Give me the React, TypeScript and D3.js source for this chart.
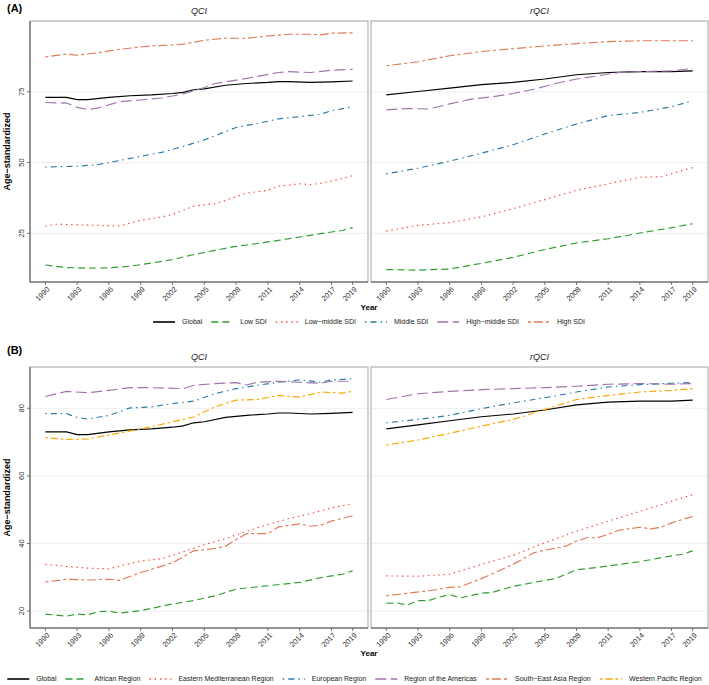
import React from "react";
import * as d3 from "d3";

type Pt = [number, number];

// ---------- Data ----------
const X_TICKS = [1990, 1993, 1996, 1999, 2002, 2005, 2008, 2011, 2014, 2017, 2019];
const Y_TICKS_A = [25, 50, 75];
const Y_TICKS_B = [20, 40, 60, 80];
const FACETS = ["QCI", "rQCI"];

const SDI_NAMES = ["Global", "Low SDI", "Low−middle SDI", "Middle SDI", "High−middle SDI", "High SDI"];
const REGION_NAMES = [
  "Global",
  "African Region",
  "Eastern Mediterranean Region",
  "European Region",
  "Region of the Americas",
  "South−East Asia Region",
  "Western Pacific Region",
];

// Panel A, QCI
const globalQCI: Pt[] = [[1990,73.0],[1992,73.0],[1993,72.2],[1994,72.2],[1996,73.0],[1998,73.6],[2000,73.9],[2002,74.4],[2003,74.8],[2004,75.7],[2005,76.0],[2007,77.3],[2009,77.9],[2011,78.3],[2012,78.6],[2013,78.6],[2015,78.3],[2017,78.5],[2019,78.8]];
const lowSdiQCI: Pt[] = [[1990,13.8],[1992,12.9],[1994,12.7],[1996,12.8],[1998,13.4],[2000,14.5],[2002,15.7],[2004,17.5],[2006,19.0],[2008,20.4],[2010,21.4],[2012,22.5],[2014,23.7],[2016,24.9],[2018,26.0],[2019,27.0]];
const lowMidSdiQCI: Pt[] = [[1990,27.5],[1991,28.2],[1993,28.0],[1995,27.8],[1997,27.6],[1998,28.6],[1999,29.6],[2001,30.8],[2002,31.7],[2003,33.1],[2004,34.6],[2006,35.5],[2007,36.6],[2008,38.0],[2009,39.2],[2011,40.2],[2012,41.6],[2014,42.5],[2015,42.2],[2016,42.7],[2018,44.3],[2019,45.4]];
const midSdiQCI: Pt[] = [[1990,48.4],[1993,48.7],[1995,49.3],[1997,50.7],[1999,52.2],[2001,53.6],[2003,55.7],[2005,58.0],[2007,60.9],[2008,62.4],[2010,63.8],[2012,65.4],[2014,66.2],[2016,67.1],[2017,68.3],[2019,69.7]];
const highMidSdiQCI: Pt[] = [[1990,71.2],[1992,71.0],[1993,69.5],[1994,68.7],[1995,69.3],[1997,71.5],[1999,72.1],[2001,72.8],[2003,74.2],[2005,76.5],[2006,77.9],[2008,79.1],[2010,80.4],[2012,81.8],[2013,82.1],[2015,81.8],[2017,82.6],[2019,82.9]];
const highSdiQCI: Pt[] = [[1990,87.3],[1992,88.3],[1993,87.9],[1995,88.8],[1997,90.0],[2000,91.2],[2002,91.5],[2003,91.8],[2005,93.2],[2007,93.9],[2009,93.9],[2011,94.7],[2013,95.3],[2015,95.3],[2016,95.1],[2017,95.7],[2019,95.8]];

// Panel A, rQCI
const globalRQCI: Pt[] = [[1990,73.9],[1993,75.1],[1996,76.3],[1999,77.5],[2002,78.3],[2005,79.5],[2008,81.0],[2011,81.8],[2014,82.1],[2017,82.1],[2019,82.4]];
const lowSdiRQCI: Pt[] = [[1990,12.2],[1993,12.0],[1996,12.4],[1999,14.4],[2002,16.5],[2005,19.3],[2008,21.6],[2011,23.1],[2014,25.1],[2017,27.0],[2019,28.4]];
const lowMidSdiRQCI: Pt[] = [[1990,25.8],[1993,27.8],[1996,28.8],[1999,30.8],[2002,33.7],[2005,36.9],[2008,40.2],[2011,42.5],[2014,44.8],[2016,45.0],[2019,48.2]];
const midSdiRQCI: Pt[] = [[1990,46.0],[1993,48.0],[1996,50.5],[1999,53.3],[2002,56.3],[2005,60.1],[2008,63.6],[2011,66.6],[2014,67.7],[2017,69.7],[2019,71.8]];
const highMidSdiRQCI: Pt[] = [[1990,68.6],[1992,69.1],[1994,68.9],[1996,70.7],[1998,72.4],[2000,73.2],[2002,74.4],[2004,75.9],[2006,77.9],[2008,79.5],[2010,80.6],[2012,81.8],[2014,82.1],[2017,82.4],[2019,83.2]];
const highSdiRQCI: Pt[] = [[1990,84.2],[1993,85.6],[1996,87.7],[1999,89.2],[2002,90.2],[2005,91.2],[2008,92.0],[2011,92.7],[2014,93.0],[2017,93.0],[2019,93.0]];

// Panel B, QCI
const africanQCI: Pt[] = [[1990,19.1],[1992,18.5],[1993,19.1],[1994,18.9],[1995,19.8],[1996,20.0],[1997,19.4],[1999,20.1],[2000,20.8],[2002,22.1],[2004,23.1],[2006,24.5],[2008,26.5],[2011,27.5],[2014,28.5],[2016,29.9],[2018,30.9],[2019,31.9]];
const emrQCI: Pt[] = [[1990,33.8],[1992,33.2],[1994,32.7],[1996,32.5],[1997,33.3],[1999,34.8],[2001,35.5],[2003,37.5],[2005,39.7],[2007,41.4],[2009,43.6],[2011,45.6],[2013,47.4],[2015,48.8],[2017,50.5],[2019,51.8]];
const eurQCI: Pt[] = [[1990,78.4],[1992,78.4],[1993,77.3],[1994,76.8],[1996,77.9],[1998,80.1],[2000,80.4],[2002,81.4],[2004,82.1],[2006,84.3],[2008,85.8],[2010,86.8],[2012,87.7],[2014,88.4],[2016,87.7],[2017,88.4],[2019,88.7]];
const amrQCI: Pt[] = [[1990,83.5],[1992,85.0],[1994,84.6],[1996,85.3],[1998,86.1],[2000,86.1],[2003,85.8],[2004,86.8],[2006,87.3],[2008,87.6],[2009,86.9],[2010,87.7],[2012,88.0],[2014,87.7],[2016,87.4],[2017,88.0],[2019,88.0]];
const searQCI: Pt[] = [[1990,28.6],[1992,29.4],[1994,29.2],[1996,29.4],[1997,29.1],[1999,31.4],[2001,33.3],[2002,34.3],[2004,37.8],[2006,38.5],[2007,39.2],[2008,41.2],[2009,42.9],[2011,42.9],[2012,44.9],[2014,45.8],[2015,45.1],[2016,45.4],[2017,46.6],[2019,48.2]];
const wprQCI: Pt[] = [[1990,71.3],[1992,70.8],[1994,70.9],[1996,72.1],[1998,73.3],[2000,74.5],[2002,76.0],[2004,77.4],[2006,80.4],[2008,82.4],[2010,82.6],[2012,83.8],[2014,83.3],[2016,84.8],[2018,84.5],[2019,85.0]];

// Panel B, rQCI
const africanRQCI: Pt[] = [[1990,22.3],[1991,22.4],[1992,21.8],[1993,23.1],[1994,23.1],[1995,24.1],[1996,24.9],[1997,23.9],[1998,24.6],[1999,25.3],[2000,25.5],[2002,27.3],[2004,28.5],[2006,29.6],[2008,32.2],[2010,32.9],[2012,33.8],[2014,34.6],[2016,35.8],[2018,36.8],[2019,37.8]];
const emrRQCI: Pt[] = [[1990,30.4],[1993,30.3],[1996,30.9],[1999,33.8],[2002,36.5],[2005,40.2],[2008,43.6],[2011,46.6],[2014,49.5],[2017,52.5],[2019,54.4]];
const eurRQCI: Pt[] = [[1990,75.7],[1993,76.7],[1996,77.9],[1999,79.9],[2002,81.6],[2005,83.1],[2008,84.8],[2011,86.3],[2014,87.0],[2017,87.4],[2019,87.6]];
const amrRQCI: Pt[] = [[1990,82.6],[1993,84.3],[1996,85.0],[1999,85.5],[2002,85.8],[2005,86.1],[2008,86.5],[2011,87.1],[2014,87.3],[2017,87.1],[2019,87.3]];
const searRQCI: Pt[] = [[1990,24.5],[1992,25.3],[1994,26.0],[1996,27.0],[1997,27.2],[1999,29.6],[2001,32.4],[2002,33.8],[2004,37.3],[2005,38.0],[2007,39.2],[2008,40.7],[2009,41.7],[2010,41.7],[2011,42.7],[2012,43.9],[2014,44.8],[2015,44.3],[2016,44.8],[2017,46.1],[2019,48.0]];
const wprRQCI: Pt[] = [[1990,69.1],[1993,70.6],[1996,72.6],[1999,74.7],[2002,76.7],[2005,79.6],[2008,82.6],[2011,83.8],[2014,84.8],[2017,85.3],[2019,85.8]];

// ---------- Styles ----------
const COLORS = ["#000000", "#2f9e2f", "#ff3b3b", "#2a7bab", "#9f74ab", "#e07a56", "#ffa500"];
const DASHES = ["", "7 4", "1.4 3.8", "1.5 4 6 4", "11 4.5", "3 3 9 3", "2.5 3 7 3"];

const FONT = "'Liberation Sans', Arial, Helvetica, sans-serif";
const W = 709;
const H = 685;
const COLS: [number, number][] = [[30, 368], [371, 708]];

function measure(text: string, size: number, weight = "normal"): number {
  if (typeof document === "undefined") return text.length * size * 0.5;
  const c = document.createElement("canvas");
  const ctx = c.getContext("2d");
  if (!ctx) return text.length * size * 0.5;
  ctx.font = `${weight} ${size}px ${FONT}`;
  return ctx.measureText(text).width;
}

function yDomain(groups: Pt[][][]): [number, number] {
  const vals = groups.flat(2).map((p) => p[1]);
  const lo = d3.min(vals) as number;
  const hi = d3.max(vals) as number;
  const pad = (hi - lo) * 0.05;
  return [lo - pad, hi + pad];
}

const xPad = (2019 - 1990) * 0.05;

function Panel({ x0, x1, top, bottom, series, yTicks, domain, facet, showY }: any) {
  const x = d3.scaleLinear().domain([1990 - xPad, 2019 + xPad]).range([x0, x1]);
  const y = d3.scaleLinear().domain(domain).range([bottom, top]);
  const line = d3.line<Pt>().x((d) => x(d[0])).y((d) => y(d[1]));
  return (
    <g>
      <text x={(x0 + x1) / 2} y={top - 7} textAnchor="middle" fontStyle="italic" fontSize={9} fill="#1a1a1a">
        {facet}
      </text>
      <rect x={x0} y={top} width={x1 - x0} height={bottom - top} fill="#ffffff" />
      {yTicks.map((t: number) => (
        <line key={t} x1={x0} x2={x1} y1={y(t)} y2={y(t)} stroke="#ebebeb" strokeWidth={0.8} />
      ))}
      {series.map((s: Pt[], i: number) => (
        <path
          key={i}
          d={line(s) || ""}
          fill="none"
          stroke={COLORS[i]}
          strokeWidth={1.15}
          strokeDasharray={DASHES[i] || undefined}
        />
      ))}
      <rect x={x0} y={top} width={x1 - x0} height={bottom - top} fill="none" stroke="#b3b3b3" strokeWidth={1.2} />
      {showY && <line x1={x0} x2={x0} y1={top} y2={bottom} stroke="#555" strokeWidth={1} />}
      <line x1={x0} x2={x1} y1={bottom} y2={bottom} stroke="#555" strokeWidth={1} />
      {showY &&
        yTicks.map((t: number) => (
          <g key={"yt" + t}>
            <line x1={x0 - 3} x2={x0} y1={y(t)} y2={y(t)} stroke="#555" strokeWidth={0.8} />
            <text
              transform={`translate(${x0 - 6},${y(t)}) rotate(-90)`}
              textAnchor="middle"
              fontSize={7.5}
              fill="#333"
            >
              {t}
            </text>
          </g>
        ))}
      {X_TICKS.map((t) => (
        <g key={"xt" + t}>
          <line x1={x(t)} x2={x(t)} y1={bottom} y2={bottom + 3} stroke="#555" strokeWidth={0.8} />
          <text
            transform={`translate(${x(t) + 1},${bottom + 4}) rotate(-45)`}
            textAnchor="end"
            dy="0.72em"
            fontSize={7.5}
            fill="#333"
          >
            {t}
          </text>
        </g>
      ))}
    </g>
  );
}

function Legend({ names, cy, cx }: { names: string[]; cy: number; cx: number }) {
  const keyW = 22;
  const gapKT = 7;
  const gapItem = 9;
  const fs = 7;
  const widths = names.map((n) => measure(n, fs));
  const total = d3.sum(widths) + names.length * (keyW + gapKT) + (names.length - 1) * gapItem;
  let cur = cx - total / 2;
  const items = names.map((n, i) => {
    const start = cur;
    cur += keyW + gapKT + widths[i] + gapItem;
    return { n, i, start };
  });
  return (
    <g>
      {items.map(({ n, i, start }) => (
        <g key={n}>
          <line
            x1={start}
            x2={start + keyW}
            y1={cy}
            y2={cy}
            stroke={COLORS[i]}
            strokeWidth={1.6}
            strokeDasharray={DASHES[i] || undefined}
          />
          <text x={start + keyW + gapKT} y={cy} dy="0.35em" fontSize={fs} fill="#1a1a1a">
            {n}
          </text>
        </g>
      ))}
    </g>
  );
}

export default function App() {
  const groupA = [
    [globalQCI, lowSdiQCI, lowMidSdiQCI, midSdiQCI, highMidSdiQCI, highSdiQCI],
    [globalRQCI, lowSdiRQCI, lowMidSdiRQCI, midSdiRQCI, highMidSdiRQCI, highSdiRQCI],
  ];
  const groupB = [
    [globalQCI, africanQCI, emrQCI, eurQCI, amrQCI, searQCI, wprQCI],
    [globalRQCI, africanRQCI, emrRQCI, eurRQCI, amrRQCI, searRQCI, wprRQCI],
  ];
  const domA = yDomain(groupA);
  const domB = yDomain(groupB);
  const rowA = { top: 21, bottom: 282 };
  const rowB = { top: 367, bottom: 628 };
  const plotCx = (COLS[0][0] + COLS[1][1]) / 2;

  return (
    <svg
      width={W}
      height={H}
      viewBox={`0 0 ${W} ${H}`}
      style={{ position: "absolute", left: 0, top: 0, background: "#fff" }}
      fontFamily={FONT}
    >
      <rect x={0} y={0} width={W} height={H} fill="#fff" />
      {/* Panel A */}
      <text x={7} y={12} fontSize={11} fontWeight="bold" fill="#000">(A)</text>
      {groupA.map((s, i) => (
        <Panel
          key={"a" + i}
          x0={COLS[i][0]}
          x1={COLS[i][1]}
          top={rowA.top}
          bottom={rowA.bottom}
          series={s}
          yTicks={Y_TICKS_A}
          domain={domA}
          facet={FACETS[i]}
          showY={i === 0}
        />
      ))}
      <text
        transform={`translate(10,${(rowA.top + rowA.bottom) / 2}) rotate(-90)`}
        textAnchor="middle"
        fontSize={9}
        fontWeight="bold"
        fill="#000"
      >
        Age−standardized
      </text>
      <text x={plotCx} y={310} textAnchor="middle" fontSize={8} fontWeight="bold" fill="#000">Year</text>
      <Legend names={SDI_NAMES} cy={322} cx={plotCx} />

      {/* Panel B */}
      <text x={7} y={354} fontSize={11} fontWeight="bold" fill="#000">(B)</text>
      {groupB.map((s, i) => (
        <Panel
          key={"b" + i}
          x0={COLS[i][0]}
          x1={COLS[i][1]}
          top={rowB.top}
          bottom={rowB.bottom}
          series={s}
          yTicks={Y_TICKS_B}
          domain={domB}
          facet={FACETS[i]}
          showY={i === 0}
        />
      ))}
      <text
        transform={`translate(10,${(rowB.top + rowB.bottom) / 2}) rotate(-90)`}
        textAnchor="middle"
        fontSize={9}
        fontWeight="bold"
        fill="#000"
      >
        Age−standardized
      </text>
      <text x={plotCx} y={656} textAnchor="middle" fontSize={8} fontWeight="bold" fill="#000">Year</text>
      <Legend names={REGION_NAMES} cy={679} cx={W / 2} />
    </svg>
  );
}
